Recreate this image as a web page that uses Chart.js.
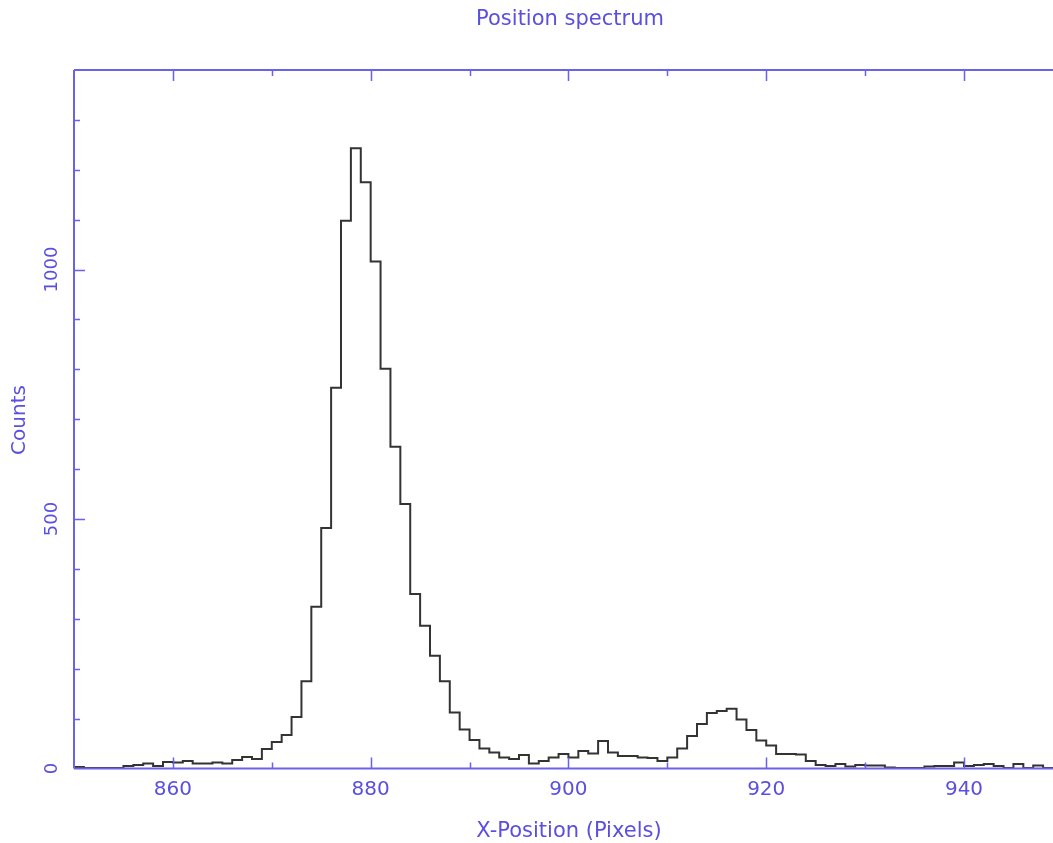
<!DOCTYPE html>
<html>
<head>
<meta charset="utf-8">
<title>Position spectrum</title>
<script src="https://cdn.jsdelivr.net/npm/chart.js@4.4.0/dist/chart.umd.min.js"></script>
<style>
  html, body { margin: 0; padding: 0; background: #ffffff; }
  canvas { display: block; }
</style>
</head>
<body>
<canvas id="spectrumChart" width="1053" height="843"></canvas>
<script>
const chartTitle = 'Position spectrum';
const xTitle = 'X-Position (Pixels)';
const yTitle = 'Counts';

// left edge of each 1-pixel bin
const binStart = [
    850, 851, 852, 853, 854, 855, 856, 857, 858, 859,
    860, 861, 862, 863, 864, 865, 866, 867, 868, 869,
    870, 871, 872, 873, 874, 875, 876, 877, 878, 879,
    880, 881, 882, 883, 884, 885, 886, 887, 888, 889,
    890, 891, 892, 893, 894, 895, 896, 897, 898, 899,
    900, 901, 902, 903, 904, 905, 906, 907, 908, 909,
    910, 911, 912, 913, 914, 915, 916, 917, 918, 919,
    920, 921, 922, 923, 924, 925, 926, 927, 928, 929,
    930, 931, 932, 933, 934, 935, 936, 937, 938, 939,
    940, 941, 942, 943, 944, 945, 946, 947, 948
];
const counts = [
    3, 1, 1, 1, 1, 5, 7, 10, 5, 13,
    12, 15, 10, 10, 12, 10, 17, 23, 19, 39,
    53, 67, 103, 175, 324, 482, 763, 1098, 1243, 1175,
    1016, 801, 645, 530, 350, 286, 226, 175, 112, 78,
    57, 40, 32, 22, 19, 27, 10, 15, 22, 29,
    22, 35, 30, 55, 32, 25, 25, 22, 21, 15,
    22, 40, 65, 89, 111, 115, 120, 98, 77, 56,
    46, 29, 29, 28, 15, 7, 5, 9, 4, 7,
    6, 6, 2, 1, 1, 1, 4, 5, 5, 12,
    5, 7, 9, 5, 1, 9, 1, 6, 1
];
const binWidth = 1;

const xTickLabels = [860, 880, 900, 920, 940];
const yTickLabels = [0, 500, 1000];

const AXIS_COLOR = '#6a62e8';
const TEXT_COLOR = '#5a4fe0';
const FONT = '"DejaVu Sans", sans-serif';

// step outline: one point per bin edge, last point closes the final bin
const histPoints = binStart.map((x, i) => ({ x: x, y: counts[i] }));
histPoints.push({ x: binStart[binStart.length - 1] + binWidth, y: counts[counts.length - 1] });

// frame, inward ticks and labels, drawn on the chart's own scales
const pgFrame = {
    id: 'pgFrame',
    afterDraw(chart) {
        const ctx = chart.ctx;
        const a = chart.chartArea;
        const xs = chart.scales.x;
        const ys = chart.scales.y;
        ctx.save();

        ctx.strokeStyle = AXIS_COLOR;
        ctx.lineWidth = 2;
        ctx.beginPath();
        ctx.moveTo(a.left, a.top);
        ctx.lineTo(a.right + 2, a.top);
        ctx.moveTo(a.left, a.top);
        ctx.lineTo(a.left, a.bottom);
        ctx.moveTo(a.left, a.bottom);
        ctx.lineTo(a.right + 2, a.bottom);
        ctx.stroke();

        // x ticks, top and bottom
        ctx.lineWidth = 1.5;
        ctx.beginPath();
        for (let v = 860; v <= xs.max; v += 10) {
            const px = Math.round(xs.getPixelForValue(v)) + 0.5;
            const len = (v % 20 === 0) ? 11 : 6;
            ctx.moveTo(px, a.bottom);
            ctx.lineTo(px, a.bottom - len);
            ctx.moveTo(px, a.top);
            ctx.lineTo(px, a.top + len);
        }
        // y ticks on the left
        for (let v = 100; v < ys.max; v += 100) {
            const py = Math.round(ys.getPixelForValue(v)) + 0.5;
            const len = (v % 500 === 0) ? 11 : 6;
            ctx.moveTo(a.left, py);
            ctx.lineTo(a.left + len, py);
        }
        ctx.stroke();

        ctx.fillStyle = TEXT_COLOR;
        ctx.textAlign = 'center';
        ctx.textBaseline = 'middle';

        ctx.font = '20px ' + FONT;
        xTickLabels.forEach(v => {
            ctx.fillText(String(v), xs.getPixelForValue(v), a.bottom + 21);
        });

        ctx.font = '18px ' + FONT;
        yTickLabels.forEach(v => {
            ctx.save();
            ctx.translate(a.left - 22, ys.getPixelForValue(v));
            ctx.rotate(-Math.PI / 2);
            ctx.fillText(String(v), 0, 0);
            ctx.restore();
        });

        ctx.font = '20px ' + FONT;
        ctx.save();
        ctx.translate(20, 420);
        ctx.rotate(-Math.PI / 2);
        ctx.fillText(yTitle, 0, 0);
        ctx.restore();

        ctx.font = '21px ' + FONT;
        ctx.fillText(xTitle, 569, 832);
        ctx.fillText(chartTitle, 570, 20);

        ctx.restore();
    }
};

const spectrumChart = new Chart(document.getElementById('spectrumChart').getContext('2d'), {
    type: 'line',
    data: {
        datasets: [{
            label: 'Counts',
            data: histPoints,
            stepped: true,
            borderColor: '#333333',
            borderWidth: 2,
            pointRadius: 0,
            fill: false,
            tension: 0
        }]
    },
    options: {
        responsive: false,
        animation: false,
        layout: { padding: { left: 74, right: 0, top: 70, bottom: 74.5 } },
        plugins: {
            legend: { display: false },
            tooltip: { enabled: false },
            title: { display: false }
        },
        scales: {
            x: { type: 'linear', min: 850, max: 949, display: false },
            y: { type: 'linear', min: 0, max: 1400, display: false }
        }
    },
    plugins: [pgFrame]
});
</script>
</body>
</html>
